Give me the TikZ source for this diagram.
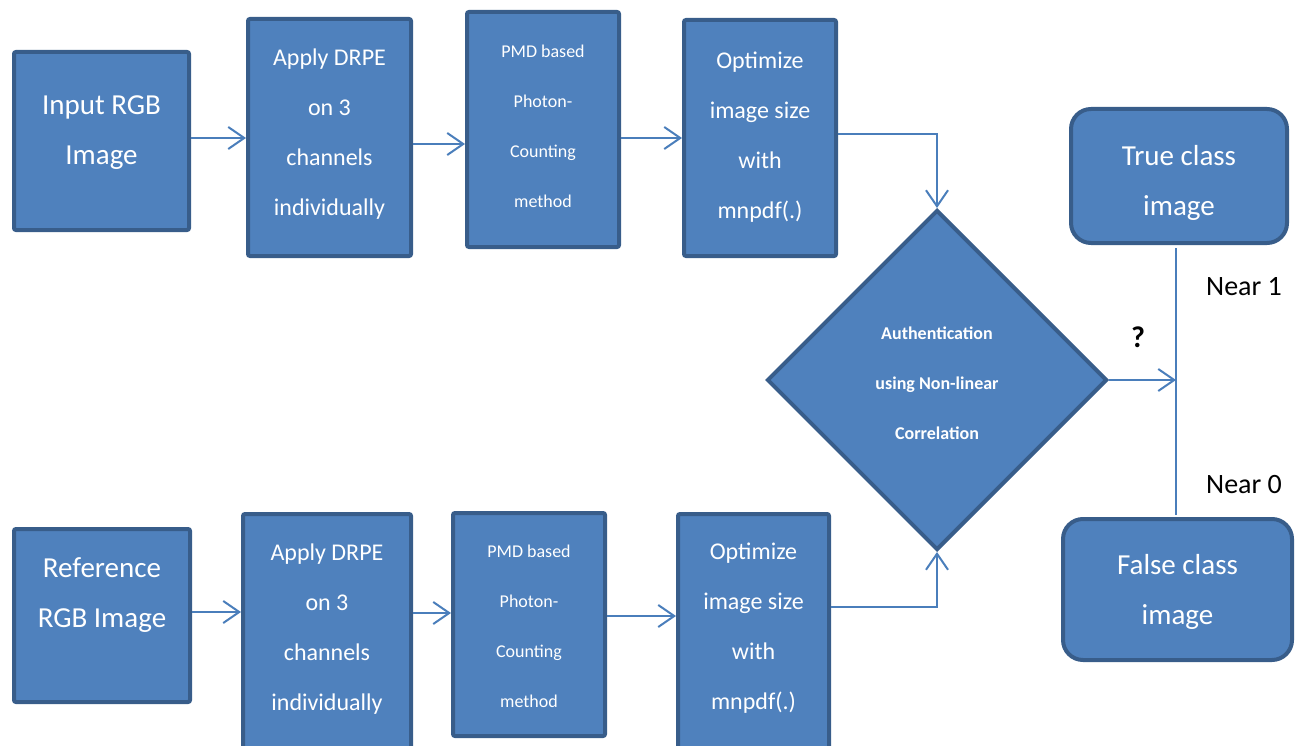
\documentclass[tikz,border=0pt]{standalone}
\usepackage{fontspec}
\setmainfont{Carlito}
\usetikzlibrary{shapes.geometric,arrows.meta}
\definecolor{boxfill}{HTML}{4F81BD}
\definecolor{boxline}{HTML}{385D8A}
\definecolor{arrowc}{HTML}{4A7EBB}
\begin{document}
\begin{tikzpicture}[x=1pt,y=-1pt,
 blk/.style={draw=boxline, fill=boxfill, line width=4pt, rounded corners=2pt, inner sep=0pt},
 rbox/.style={blk, rounded corners=20pt},
 txt/.style={text=white, align=center, inner sep=0pt},
 big/.style={txt, font=\fontsize{29}{50}\selectfont},
 mid/.style={txt, font=\fontsize{24}{50}\selectfont},
 sml/.style={txt, font=\fontsize{18}{50}\selectfont},
 dec/.style={draw=boxline, fill=boxfill, line width=4pt, diamond, inner sep=0pt},
 conn/.style={draw=arrowc, line width=2pt, -{Straight Barb[length=16pt,width=22pt,line width=2pt]}},
 plain/.style={draw=arrowc, line width=2pt},
 lab/.style={inner sep=0pt, text=black, font=\fontsize{28}{34}\selectfont},
]
\useasboundingbox (0,0) rectangle (1300,746);
% top row
\node[blk,minimum width=175pt,minimum height=178pt] (b1) at (101.5,141) {};
\node[big] (b1t) at (101.5,133) {Input RGB\\Image};
\node[blk,minimum width=163pt,minimum height=237pt] (b2) at (329.5,137.5) {};
\node[mid] (b2t) at (329.5,134.5) {Apply DRPE\\on 3\\channels\\individually};
\node[blk,minimum width=152pt,minimum height=235pt] (b3) at (543,129.5) {};
\node[sml] (b3t) at (543,126.5) {PMD based\\Photon-\\Counting\\method};
\node[blk,minimum width=152pt,minimum height=236pt] (b4) at (760,138) {};
\node[mid] (b4t) at (760,137) {Optimize\\image size\\with\\mnpdf(.)};
% bottom row
\node[blk,minimum width=176pt,minimum height=173pt] (b5) at (102,615.5) {};
\node[big] (b5t) at (102,595.5) {Reference\\RGB Image};
\node[blk,minimum width=168pt,minimum height=237pt] (b6) at (327,632.5) {};
\node[mid] (b6t) at (327,629.5) {Apply DRPE\\on 3\\channels\\individually};
\node[blk,minimum width=152pt,minimum height=223pt] (b7) at (529,624.5) {};
\node[sml] (b7t) at (529,626.5) {PMD based\\Photon-\\Counting\\method};
\node[blk,minimum width=151pt,minimum height=237pt] (b8) at (753.5,632.5) {};
\node[mid] (b8t) at (753.5,628.5) {Optimize\\image size\\with\\mnpdf(.)};
% decision
\node[dec,minimum width=340pt,minimum height=340pt] (dia) at (937,380) {};
\node[sml,font=\fontsize{18}{50}\selectfont\bfseries] (diat) at (937,383) {Authentication\\using Non-linear\\Correlation};
% results
\node[rbox,minimum width=216pt,minimum height=134pt] (tru) at (1179,176) {};
\node[big] (trut) at (1179,183) {True class\\image};
\node[rbox,minimum width=229pt,minimum height=141pt] (fal) at (1177.5,589.5) {};
\node[big] (falt) at (1177.5,591.5) {False class\\image};
\coordinate (jt) at (1176,248);
\coordinate (jm) at (1176,380);
\coordinate (jb) at (1176,515);
% connectors
\draw[conn] (b1.east |- 0,138) -- (b2.west |- 0,138);
\draw[conn] (b2.east |- 0,144) -- (b3.west |- 0,144);
\draw[conn] (b3.east |- 0,138) -- (b4.west |- 0,138);
\draw[conn] (b4.east |- 0,134) -| (dia.north);
\draw[conn] (b5.east |- 0,612) -- (b6.west |- 0,612);
\draw[conn] (b6.east |- 0,613) -- (b7.west |- 0,613);
\draw[conn] (b7.east |- 0,616) -- (b8.west |- 0,616);
\draw[conn] (b8.east |- 0,607) -| (dia.south);
\draw[plain] (jt) -- (jb);
\draw[conn] (dia.east) -- (jm);
% labels
\node[lab,font=\fontsize{30}{34}\selectfont\bfseries] (q) at (1138,337) {?};
\node[lab] (n1) at (1244,287) {Near 1};
\node[lab] (n0) at (1244,485) {Near 0};
\end{tikzpicture}
\end{document}
